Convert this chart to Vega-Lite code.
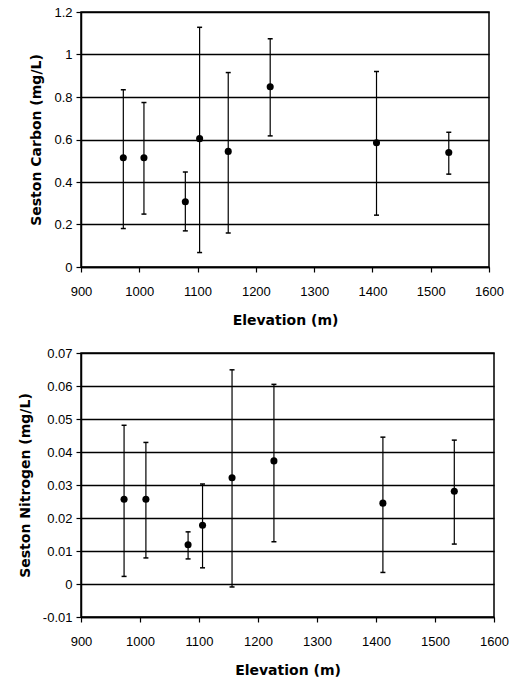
{
  "$schema": "https://vega.github.io/schema/vega-lite/v6.json",
  "background": "white",
  "padding": {"left": 17, "top": 5, "right": 10, "bottom": 2},
  "bounds": "flush",
  "spacing": 86,
  "config": {
    "view": {"stroke": "black", "strokeWidth": 1.5},
    "font": "Liberation Sans",
    "axis": {
      "labelFont": "Liberation Sans", "labelFontSize": 13, "labelColor": "black", "labelOverlap": false,
      "titleFont": "DejaVu Sans", "titleFontSize": 14, "titleFontWeight": "bold", "titleColor": "black",
      "domainColor": "black", "domainWidth": 1.5, "tickColor": "black", "tickWidth": 1.2, "tickSize": 5,
      "gridColor": "black", "gridWidth": 1.5, "gridOpacity": 1, "tickCount": 20
    },
    "axisX": {"grid": false, "labelPadding": 13, "titlePadding": 15, "labelFlush": false},
    "axisY": {"labelPadding": 4, "titlePadding": 10}
  },
  "datasets": {
    "carbon": [
      {"elevation": 972.6, "mean": 0.514, "low": 0.181, "high": 0.834},
      {"elevation": 1008, "mean": 0.514, "low": 0.249, "high": 0.774},
      {"elevation": 1079, "mean": 0.307, "low": 0.170, "high": 0.447},
      {"elevation": 1103.5, "mean": 0.604, "low": 0.068, "high": 1.128},
      {"elevation": 1152.6, "mean": 0.544, "low": 0.160, "high": 0.915},
      {"elevation": 1224.6, "mean": 0.848, "low": 0.617, "high": 1.074},
      {"elevation": 1407, "mean": 0.585, "low": 0.244, "high": 0.920},
      {"elevation": 1531, "mean": 0.539, "low": 0.437, "high": 0.634}
    ],
    "nitrogen": [
      {"elevation": 973, "mean": 0.0257, "low": 0.0023, "high": 0.0481},
      {"elevation": 1010, "mean": 0.0257, "low": 0.0079, "high": 0.0429},
      {"elevation": 1081.5, "mean": 0.0119, "low": 0.0076, "high": 0.0158},
      {"elevation": 1106, "mean": 0.0178, "low": 0.0049, "high": 0.0303},
      {"elevation": 1156, "mean": 0.0322, "low": -0.0009, "high": 0.0649},
      {"elevation": 1227, "mean": 0.0373, "low": 0.0128, "high": 0.0605},
      {"elevation": 1411.7, "mean": 0.0245, "low": 0.0035, "high": 0.0445},
      {"elevation": 1532.7, "mean": 0.0281, "low": 0.0121, "high": 0.0436}
    ]
  },
  "vconcat": [
    {
      "width": 408, "height": 255,
      "data": {"name": "carbon"},
      "encoding": {
        "x": {"field": "elevation", "type": "quantitative", "title": "Elevation (m)",
              "scale": {"domain": [900, 1600], "nice": false, "zero": false},
              "axis": {"values": [900, 1000, 1100, 1200, 1300, 1400, 1500, 1600], "format": "d"}}
      },
      "layer": [
        {"mark": {"type": "rule", "color": "black", "strokeWidth": 1.2},
         "encoding": {
           "y": {"field": "low", "type": "quantitative", "title": "Seston Carbon (mg/L)",
                 "scale": {"domain": [0, 1.2], "nice": false},
                 "axis": {"values": [0, 0.2, 0.4, 0.6, 0.8, 1, 1.2], "labelExpr": "format(datum.value, '~g')"}},
           "y2": {"field": "high"}}},
        {"mark": {"type": "tick", "orient": "horizontal", "color": "black", "size": 5, "thickness": 1.5, "opacity": 1},
         "encoding": {"y": {"field": "low", "type": "quantitative", "title": "Seston Carbon (mg/L)"}}},
        {"mark": {"type": "tick", "orient": "horizontal", "color": "black", "size": 5, "thickness": 1.5, "opacity": 1},
         "encoding": {"y": {"field": "high", "type": "quantitative", "title": "Seston Carbon (mg/L)"}}},
        {"mark": {"type": "circle", "color": "black", "opacity": 1, "size": 50},
         "encoding": {"y": {"field": "mean", "type": "quantitative", "title": "Seston Carbon (mg/L)"}}}
      ]
    },
    {
      "width": 413, "height": 264,
      "data": {"name": "nitrogen"},
      "encoding": {
        "x": {"field": "elevation", "type": "quantitative", "title": "Elevation (m)",
              "scale": {"domain": [900, 1600], "nice": false, "zero": false},
              "axis": {"values": [900, 1000, 1100, 1200, 1300, 1400, 1500, 1600], "format": "d"}}
      },
      "layer": [
        {"mark": {"type": "rule", "color": "black", "strokeWidth": 1.2},
         "encoding": {
           "y": {"field": "low", "type": "quantitative", "title": "Seston Nitrogen (mg/L)",
                 "scale": {"domain": [-0.01, 0.07], "nice": false, "zero": false},
                 "axis": {"values": [-0.01, 0, 0.01, 0.02, 0.03, 0.04, 0.05, 0.06, 0.07], "labelExpr": "replace(format(datum.value, '~g'), '\u2212', '-')"}},
           "y2": {"field": "high"}}},
        {"mark": {"type": "tick", "orient": "horizontal", "color": "black", "size": 5, "thickness": 1.5, "opacity": 1},
         "encoding": {"y": {"field": "low", "type": "quantitative", "title": "Seston Nitrogen (mg/L)"}}},
        {"mark": {"type": "tick", "orient": "horizontal", "color": "black", "size": 5, "thickness": 1.5, "opacity": 1},
         "encoding": {"y": {"field": "high", "type": "quantitative", "title": "Seston Nitrogen (mg/L)"}}},
        {"mark": {"type": "circle", "color": "black", "opacity": 1, "size": 50},
         "encoding": {"y": {"field": "mean", "type": "quantitative", "title": "Seston Nitrogen (mg/L)"}}}
      ]
    }
  ]
}
